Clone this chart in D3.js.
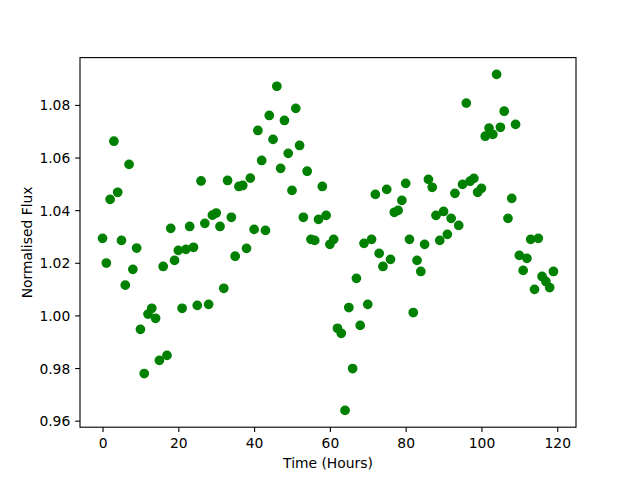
<!DOCTYPE html>
<html>
<head>
<meta charset="utf-8">
<script src="https://cdn.jsdelivr.net/npm/d3@7/dist/d3.min.js"></script>
<style>
  html, body { margin: 0; padding: 0; background: #fff; }
  svg { display: block; }
  text { font-family: "DejaVu Sans", sans-serif; }
</style>
</head>
<body>
<svg id="chart" width="640" height="480"></svg>
<script>
// Data
const hours = [
  0, 1, 2, 3, 4, 5, 6, 7, 8, 9,
  10, 11, 12, 13, 14, 15, 16, 17, 18, 19,
  20, 21, 22, 23, 24, 25, 26, 27, 28, 29,
  30, 31, 32, 33, 34, 35, 36, 37, 38, 39,
  40, 41, 42, 43, 44, 45, 46, 47, 48, 49,
  50, 51, 52, 53, 54, 55, 56, 57, 58, 59,
  60, 61, 62, 63, 64, 65, 66, 67, 68, 69,
  70, 71, 72, 73, 74, 75, 76, 77, 78, 79,
  80, 81, 82, 83, 84, 85, 86, 87, 88, 89,
  90, 91, 92, 93, 94, 95, 96, 97, 98, 99,
  100, 101, 102, 103, 104, 105, 106, 107, 108, 109,
  110, 111, 112, 113, 114, 115, 116, 117, 118, 119
];
const flux = [
  1.0293, 1.0199, 1.0441, 1.0662, 1.0468, 1.0285, 1.0115, 1.0574, 1.0175, 1.0256,
  0.9947, 0.9779, 1.0005, 1.0027, 0.9989, 0.9829, 1.0186, 0.9848, 1.0331, 1.0209,
  1.0247, 1.0027, 1.0251, 1.0338, 1.0259, 1.0038, 1.0511, 1.0350, 1.0042, 1.0381,
  1.0389, 1.0338, 1.0103, 1.0513, 1.0373, 1.0225, 1.0490, 1.0494, 1.0255, 1.0522,
  1.0327, 1.0703, 1.0589, 1.0323, 1.0760, 1.0669, 1.0871, 1.0559, 1.0741, 1.0616,
  1.0475, 1.0787, 1.0646, 1.0373, 1.0548, 1.0289, 1.0285, 1.0365, 1.0490, 1.0380,
  1.0270, 1.0289, 0.9951, 0.9932, 0.9639, 1.0030, 0.9798, 1.0141, 0.9962, 1.0274,
  1.0042, 1.0289, 1.0460, 1.0236, 1.0186, 1.0479, 1.0213, 1.0392, 1.0399, 1.0437,
  1.0502, 1.0289, 1.0011, 1.0209, 1.0167, 1.0270, 1.0517, 1.0487, 1.0380, 1.0285,
  1.0395, 1.0308, 1.0369, 1.0464, 1.0342, 1.0498, 1.0807, 1.0510, 1.0521, 1.0468,
  1.0483, 1.0681, 1.0712, 1.0688, 1.0916, 1.0715, 1.0776, 1.0369, 1.0445, 1.0726,
  1.0228, 1.0171, 1.0217, 1.0289, 1.0099, 1.0293, 1.0148, 1.0129, 1.0106, 1.0167
];
const xTicks = [0, 20, 40, 60, 80, 100, 120];
const yTicks = [0.96, 0.98, 1.00, 1.02, 1.04, 1.06, 1.08];
const xLabel = "Time (Hours)";
const yLabel = "Normalised Flux";

(function () {
  const svg = d3.select("#chart");
  const pL = 80, pR = 576, pT = 57.6, pB = 427.2;

  function padded(ext) {
    const m = (ext[1] - ext[0]) * 0.05;
    return [ext[0] - m, ext[1] + m];
  }
  const x = d3.scaleLinear().domain(padded(d3.extent(hours))).range([pL, pR]);
  const y = d3.scaleLinear().domain(padded(d3.extent(flux))).range([pB, pT]);

  const fontPx = 13.89;
  const tickLen = 4.86;

  // X axis
  const gx = svg.append("g")
    .attr("transform", `translate(0,${pB})`)
    .call(d3.axisBottom(x).tickValues(xTicks).tickFormat(d3.format("d")).tickSize(tickLen).tickPadding(6.4));
  gx.select(".domain").remove();
  gx.selectAll(".tick line").attr("stroke", "#000").attr("stroke-width", 1.11);
  gx.selectAll(".tick text").attr("font-size", fontPx).attr("fill", "#000")
    .attr("font-family", "DejaVu Sans, sans-serif");

  // Y axis
  const gy = svg.append("g")
    .attr("transform", `translate(${pL},0)`)
    .call(d3.axisLeft(y).tickValues(yTicks).tickFormat(d3.format(".2f")).tickSize(tickLen).tickPadding(4.86));
  gy.select(".domain").remove();
  gy.selectAll(".tick line").attr("stroke", "#000").attr("stroke-width", 1.11);
  gy.selectAll(".tick text").attr("font-size", fontPx).attr("fill", "#000").attr("dy", "0.36em")
    .attr("font-family", "DejaVu Sans, sans-serif");

  // Points
  svg.append("g").selectAll("circle")
    .data(hours.map((h, i) => [h, flux[i]]))
    .join("circle")
    .attr("cx", d => x(d[0]))
    .attr("cy", d => y(d[1]))
    .attr("r", 4.17)
    .attr("fill", "#008000")
    .attr("stroke", "#008000")
    .attr("stroke-width", 1.39);

  // Frame
  svg.append("rect")
    .attr("x", pL).attr("y", pT)
    .attr("width", pR - pL).attr("height", pB - pT)
    .attr("fill", "none").attr("stroke", "#000").attr("stroke-width", 1.11);

  // Axis labels
  svg.append("text")
    .attr("x", (pL + pR) / 2).attr("y", 467.8)
    .attr("text-anchor", "middle").attr("font-size", fontPx).attr("fill", "#000")
    .text(xLabel);
  svg.append("text")
    .attr("transform", `translate(32.3,${(pT + pB) / 2}) rotate(-90)`)
    .attr("text-anchor", "middle").attr("font-size", fontPx).attr("fill", "#000")
    .text(yLabel);
})();
</script>
</body>
</html>
